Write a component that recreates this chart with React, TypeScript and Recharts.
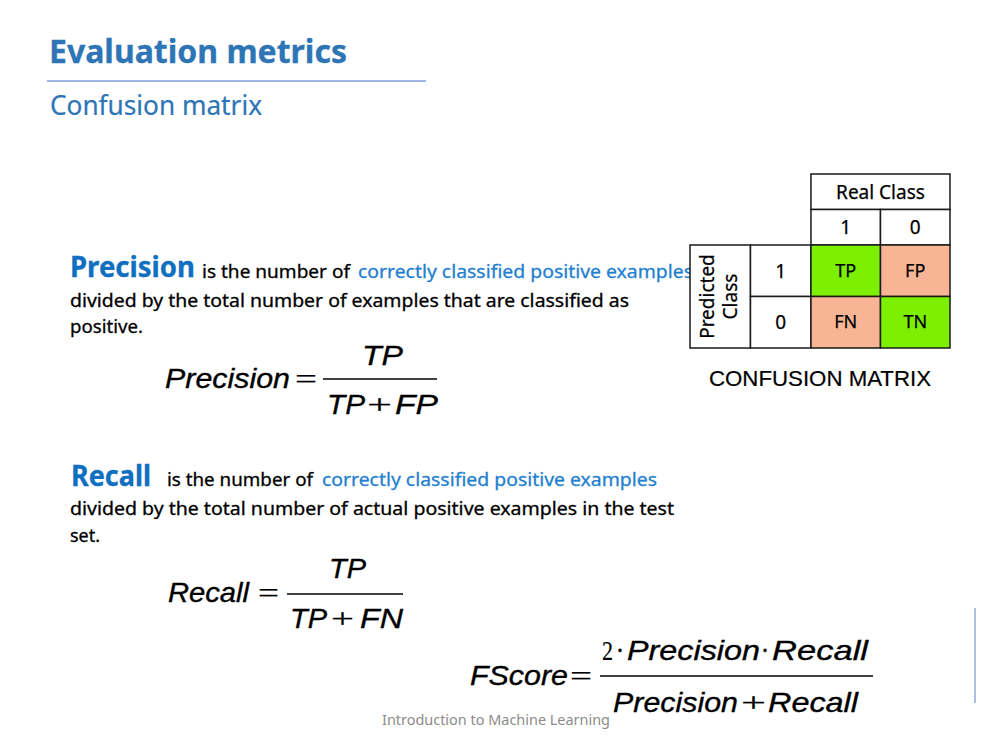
import React from 'react';
import { ScatterChart, Scatter, XAxis, YAxis, ReferenceArea } from 'recharts';

// Confusion matrix content
const realClasses = ['1', '0'];
const predictedClasses = ['1', '0'];
const outcomes = [
  ['TP', 'FP'],
  ['FN', 'TN'],
];
const realHeader = 'Real Class';
const predictedHeader = ['Predicted', 'Class'];

// one point per matrix cell, placed at the centre of its column / row
const cells = outcomes.flatMap((row, r) =>
  row.map((label, c) => ({ x: c + 0.5, y: r + 0.5, row: r, col: c, label }))
);

const BODY = '"Noto Sans", "Open Sans", sans-serif';
const MATH = '"Liberation Sans", Arial, sans-serif';
const SERIF = '"Liberation Serif", "Times New Roman", serif';
const LINE = '#1a1a1a';
const GOOD = '#7CF000';
const BAD = '#F8B595';

// width of the label columns / height of the header rows, in cell units
const LC = 0.87;
const HR = 0.69;

type TProps = {
  x: number;
  y: number;
  len?: number;
  size: number;
  color?: string;
  weight?: number;
  italic?: boolean;
  family?: string;
  thick?: number;
  children: React.ReactNode;
};

const T = ({ x, y, len, size, color = '#000', weight = 400, italic = false, family = BODY, thick = 0.3, children }: TProps) => (
  <text
    x={x}
    y={y}
    textLength={len}
    lengthAdjust={len ? 'spacingAndGlyphs' : undefined}
    fontSize={size}
    fill={color}
    stroke={color}
    strokeWidth={thick}
    fontWeight={weight}
    fontStyle={italic ? 'italic' : 'normal'}
    fontFamily={family}
  >
    {children}
  </text>
);

const PredictedLabel = (props: any) => {
  const { x, y, width, height } = props.viewBox;
  const cx = x + width / 2;
  const cy = y + height / 2;
  return (
    <g transform={`translate(${cx},${cy}) rotate(-90)`} stroke="#000" strokeWidth={0.25}>
      <text x={0} y={-6} textAnchor="middle" fontSize={19} fill="#000">
        {predictedHeader[0]}
      </text>
      <text x={0} y={17} textAnchor="middle" fontSize={19} fill="#000">
        {predictedHeader[1]}
      </text>
    </g>
  );
};

const headLabel = (value: string) => ({
  value,
  position: 'center' as const,
  fill: '#000',
  fontSize: 19,
  stroke: '#000',
  strokeWidth: 0.25,
});

const Matrix = () => (
  <div style={{ position: 'absolute', left: 689, top: 173, fontFamily: BODY }}>
    <ScatterChart width={262} height={176} margin={{ top: 1, right: 1, bottom: 1, left: 1 }}>
      <XAxis type="number" dataKey="x" domain={[-2 * LC, 2]} hide allowDataOverflow />
      <YAxis type="number" dataKey="y" domain={[-2 * HR, 2]} reversed hide allowDataOverflow />

      {/* header: Real Class */}
      <ReferenceArea
        x1={0}
        x2={2}
        y1={-2 * HR}
        y2={-HR}
        fill="#fff"
        fillOpacity={1}
        stroke={LINE}
        strokeWidth={1.5}
        label={headLabel(realHeader)}
      />
      {realClasses.map((c, i) => (
        <ReferenceArea
          key={'rc' + i}
          x1={i}
          x2={i + 1}
          y1={-HR}
          y2={0}
          fill="#fff"
          fillOpacity={1}
          stroke={LINE}
          strokeWidth={1.5}
          label={headLabel(c)}
        />
      ))}

      {/* side: Predicted Class */}
      <ReferenceArea
        x1={-2 * LC}
        x2={-LC}
        y1={0}
        y2={2}
        fill="#fff"
        fillOpacity={1}
        stroke={LINE}
        strokeWidth={1.5}
        label={PredictedLabel}
      />
      {predictedClasses.map((c, i) => (
        <ReferenceArea
          key={'pc' + i}
          x1={-LC}
          x2={0}
          y1={i}
          y2={i + 1}
          fill="#fff"
          fillOpacity={1}
          stroke={LINE}
          strokeWidth={1.5}
          label={headLabel(c)}
        />
      ))}

      {/* the four outcome cells */}
      {cells.map((d) => (
        <ReferenceArea
          key={d.label}
          x1={d.col}
          x2={d.col + 1}
          y1={d.row}
          y2={d.row + 1}
          fill={d.row === d.col ? GOOD : BAD}
          fillOpacity={1}
          stroke={LINE}
          strokeWidth={1.5}
        />
      ))}

      <Scatter
        data={cells}
        isAnimationActive={false}
        legendType="none"
        shape={(p: any) => (
          <text
            x={p.cx}
            y={p.cy}
            dy={6}
            textAnchor="middle"
            fontSize={18}
            fill="#000"
            stroke="#000"
            strokeWidth={0.25}
          >
            {p.payload.label}
          </text>
        )}
      />
    </ScatterChart>
  </div>
);

export default function App() {
  const blue = '#2E75B6';
  const strong = '#0F6FC0';
  const link = '#1F7FD0';
  const mt = 0.35;
  return (
    <div style={{ position: 'absolute', left: 0, top: 0, width: 1008, height: 754, background: '#fff', overflow: 'hidden' }}>
      <svg width={1008} height={754} style={{ position: 'absolute', left: 0, top: 0 }}>
        {/* slide header */}
        <T x={49} y={63} len={298} size={33} weight={700} color={blue}>
          Evaluation metrics
        </T>
        <line x1={47} x2={426} y1={81} y2={81} stroke="#7F9FD6" strokeWidth={1.5} />
        <T x={50} y={115} len={212} size={27} color={blue} thick={0.2}>
          Confusion matrix
        </T>

        {/* Precision */}
        <T x={70} y={277} len={125} size={29} weight={700} color={strong}>
          Precision
        </T>
        <T x={202} y={278} len={148} size={18}>
          is the number of
        </T>
        <T x={358} y={278} len={335} size={18} color={link}>
          correctly classified positive examples
        </T>
        <T x={70} y={307} len={559} size={18}>
          divided by the total number of examples that are classified as
        </T>
        <T x={70} y={333} len={73} size={18}>
          positive.
        </T>

        <T x={165} y={388} len={125} size={28} italic family={MATH} thick={mt}>
          Precision
        </T>
        <T x={295} y={388} len={22} size={28} family={SERIF} thick={0.2}>
          =
        </T>
        <T x={362} y={365} len={41} size={28} italic family={MATH} thick={mt}>
          TP
        </T>
        <line x1={323} x2={437} y1={379} y2={379} stroke="#000" strokeWidth={1.6} />
        <T x={327} y={414} len={38} size={28} italic family={MATH} thick={mt}>
          TP
        </T>
        <T x={367} y={414} len={25} size={28} family={SERIF} thick={0.2}>
          +
        </T>
        <T x={395} y={414} len={43} size={28} italic family={MATH} thick={mt}>
          FP
        </T>

        {/* Recall */}
        <T x={71} y={486} len={80} size={29} weight={700} color={strong}>
          Recall
        </T>
        <T x={167} y={486} len={146} size={18}>
          is the number of
        </T>
        <T x={322} y={486} len={335} size={18} color={link}>
          correctly classified positive examples
        </T>
        <T x={70} y={515} len={604} size={18}>
          divided by the total number of actual positive examples in the test
        </T>
        <T x={70} y={542} len={30} size={18}>
          set.
        </T>

        <T x={168} y={602} len={81} size={28} italic family={MATH} thick={mt}>
          Recall
        </T>
        <T x={258} y={602} len={21} size={28} family={SERIF} thick={0.2}>
          =
        </T>
        <T x={329} y={578} len={37} size={28} italic family={MATH} thick={mt}>
          TP
        </T>
        <line x1={287} x2={403} y1={594} y2={594} stroke="#000" strokeWidth={1.6} />
        <T x={290} y={628} len={37} size={28} italic family={MATH} thick={mt}>
          TP
        </T>
        <T x={331} y={628} len={23} size={28} family={SERIF} thick={0.2}>
          +
        </T>
        <T x={360} y={628} len={43} size={28} italic family={MATH} thick={mt}>
          FN
        </T>

        {/* F score */}
        <T x={470} y={685} len={98} size={28} italic family={MATH} thick={mt}>
          FScore
        </T>
        <T x={570} y={685} len={22} size={28} family={SERIF} thick={0.2}>
          =
        </T>
        <T x={602} y={660} len={11} size={28} family={SERIF} thick={0.2}>
          2
        </T>
        <T x={616} y={660} len={8} size={28} family={SERIF} thick={0.5}>
          ·
        </T>
        <T x={627} y={660} len={133} size={28} italic family={MATH} thick={mt}>
          Precision
        </T>
        <T x={761} y={660} len={8} size={28} family={SERIF} thick={0.5}>
          ·
        </T>
        <T x={772} y={660} len={96} size={28} italic family={MATH} thick={mt}>
          Recall
        </T>
        <line x1={600} x2={873} y1={676} y2={676} stroke="#000" strokeWidth={1.6} />
        <T x={613} y={712} len={125} size={28} italic family={MATH} thick={mt}>
          Precision
        </T>
        <T x={741} y={712} len={25} size={28} family={SERIF} thick={0.2}>
          +
        </T>
        <T x={768} y={712} len={90} size={28} italic family={MATH} thick={mt}>
          Recall
        </T>

        {/* matrix caption */}
        <T x={709} y={386} len={222} size={22} family={MATH} thick={0.2}>
          CONFUSION MATRIX
        </T>

        {/* footer */}
        <T x={382} y={725} len={228} size={14} color="#8C8C8C" thick={0}>
          Introduction to Machine Learning
        </T>
        <line x1={975} x2={975} y1={608} y2={703} stroke="#8FAADC" strokeWidth={1.5} />
      </svg>
      <Matrix />
    </div>
  );
}
